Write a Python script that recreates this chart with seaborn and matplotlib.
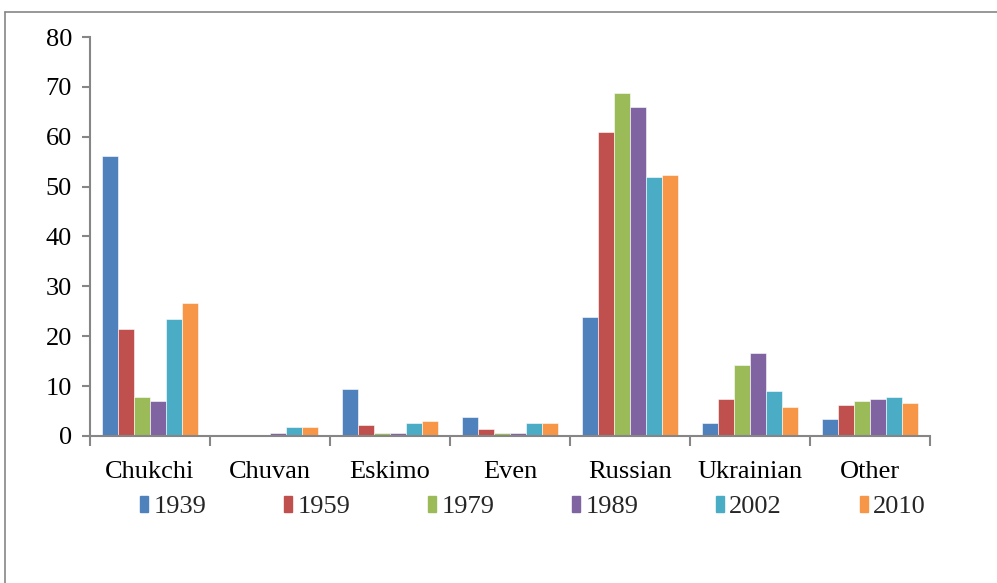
import matplotlib
matplotlib.use("Agg")
import matplotlib.pyplot as plt
import seaborn as sns
import pandas as pd
from matplotlib.lines import Line2D

categories = ["Chukchi", "Chuvan", "Eskimo", "Even", "Russian", "Ukrainian", "Other"]
years = ["1939", "1959", "1979", "1989", "2002", "2010"]
v1939 = [56.2, 0.0, 9.4, 3.8, 23.9, 2.7, 3.5]
v1959 = [21.4, 0.0, 2.2, 1.4, 60.9, 7.5, 6.3]
v1979 = [7.8, 0.0, 0.7, 0.7, 68.8, 14.2, 7.1]
v1989 = [7.1, 0.6, 0.7, 0.7, 66.0, 16.7, 7.5]
v2002 = [23.4, 1.9, 2.7, 2.7, 52.0, 9.1, 7.9]
v2010 = [26.7, 1.9, 3.0, 2.7, 52.4, 5.9, 6.7]
colors = ["#4F81BD", "#C0504D", "#9BBB59", "#8064A2", "#4BACC6", "#F79646"]

series = [v1939, v1959, v1979, v1989, v2002, v2010]
rows = []
for y, vals in zip(years, series):
    for c, v in zip(categories, vals):
        rows.append({"category": c, "year": y, "value": v})
df = pd.DataFrame(rows)

sns.set_theme(style="white")
plt.rcParams["font.family"] = ["Liberation Serif", "DejaVu Serif"]

W, H = 997, 583
FS = 19
fig = plt.figure(figsize=(W / 100, H / 100), dpi=100)
ax = fig.add_axes([90 / W, 1 - 436 / H, (930 - 90) / W, (436 - 37) / H])

sns.barplot(data=df, x="category", y="value", hue="year", order=categories,
            hue_order=years, palette=colors, width=0.8, gap=0,
            edgecolor="white", linewidth=0.4, saturation=1, ax=ax, legend=True)

ax.set_xlim(-0.5, 6.5)
ax.set_ylim(0, 80)
ax.set_yticks(range(0, 81, 10))
ax.set_xlabel("")
ax.set_ylabel("")
for s in ["top", "right"]:
    ax.spines[s].set_visible(False)
for s in ["left", "bottom"]:
    ax.spines[s].set_color("#868686")
    ax.spines[s].set_linewidth(1.5)

ax.tick_params(axis="y", which="major", direction="out", length=6, width=1.5,
               color="#868686", left=True, labelsize=FS, pad=7)
ax.tick_params(axis="x", which="major", length=0, labelsize=FS, pad=18)
ax.set_xticks([i - 0.5 for i in range(8)], minor=True)
ax.tick_params(axis="x", which="minor", direction="out", length=7, width=1.5,
               color="#868686", bottom=True)
for lab in ax.get_xticklabels() + ax.get_yticklabels():
    lab.set_color("black")

ax.legend_.remove()
handles = [plt.Rectangle((0, 0), 1, 1, color=c) for c in colors]
fig.legend(handles, years, loc="center", bbox_to_anchor=(533 / W, 1 - 507 / H),
           ncol=6, frameon=False, fontsize=FS, handlelength=0.3, handleheight=0.55,
           handletextpad=0.2, columnspacing=2.95)

# outer chart-area frame (partly cropped)
fig.add_artist(Line2D([5 / W, 5 / W], [0, 1 - 12 / H], transform=fig.transFigure,
                      color="#868686", linewidth=1.2))
fig.add_artist(Line2D([5 / W, 1], [1 - 12 / H, 1 - 12 / H], transform=fig.transFigure,
                      color="#868686", linewidth=1.2))

fig.savefig("out.png", dpi=100)
